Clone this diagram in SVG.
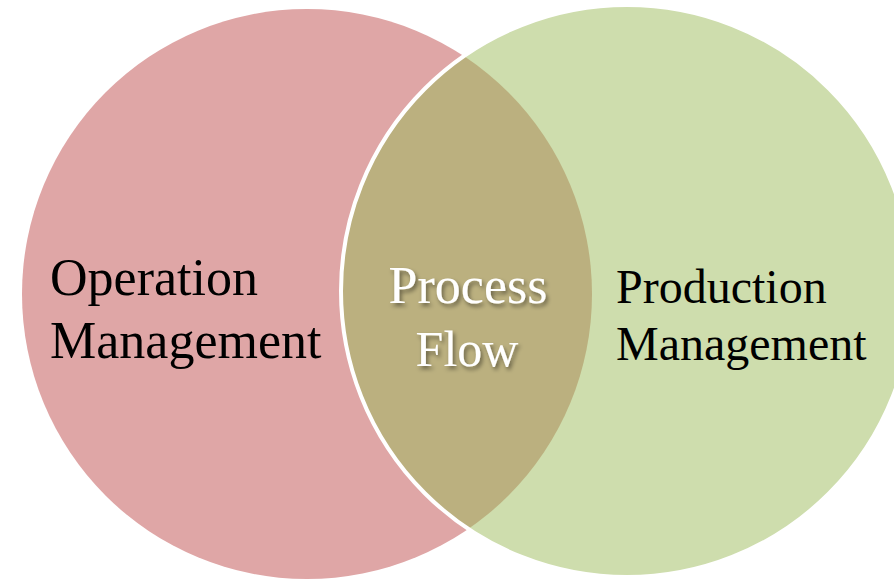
<svg xmlns="http://www.w3.org/2000/svg" width="894" height="580" viewBox="0 0 894 580">
  <defs>
    <clipPath id="greenClip">
      <circle cx="627" cy="291" r="286"/>
    </clipPath>
    <filter id="shadow" x="-20%" y="-20%" width="140%" height="160%">
      <feDropShadow dx="2" dy="3" stdDeviation="2.2" flood-color="#000000" flood-opacity="0.45"/>
    </filter>
  </defs>
  <rect x="0" y="0" width="894" height="580" fill="#FFFFFF"/>
  <g id="operation-management">
    <circle cx="307" cy="294" r="285" fill="#DFA6A6"/>
  </g>
  <g id="production-management">
    <circle cx="627" cy="291" r="286" fill="#CEDDAD"/>
  </g>
  <g id="process-flow">
    <circle cx="307" cy="294" r="285" fill="#BBB07F" clip-path="url(#greenClip)"/>
    <circle cx="627" cy="291" r="286" fill="none" stroke="#FFFFFF" stroke-width="4"/>
  </g>
  <g id="connectors"></g>
  <g id="labels" font-family="'Liberation Serif', 'Times New Roman', serif">
    <text x="50" y="295" font-size="52" fill="#000000">Operation</text>
    <text x="50" y="358" font-size="52" fill="#000000">Management</text>
    <text x="616" y="303" font-size="48" fill="#000000">Production</text>
    <text x="616" y="360" font-size="48" fill="#000000">Management</text>
    <g filter="url(#shadow)" fill="#FFFFFF" text-anchor="middle">
      <text x="468" y="303" font-size="52">Process</text>
      <text x="467" y="366" font-size="50">Flow</text>
    </g>
  </g>
</svg>
